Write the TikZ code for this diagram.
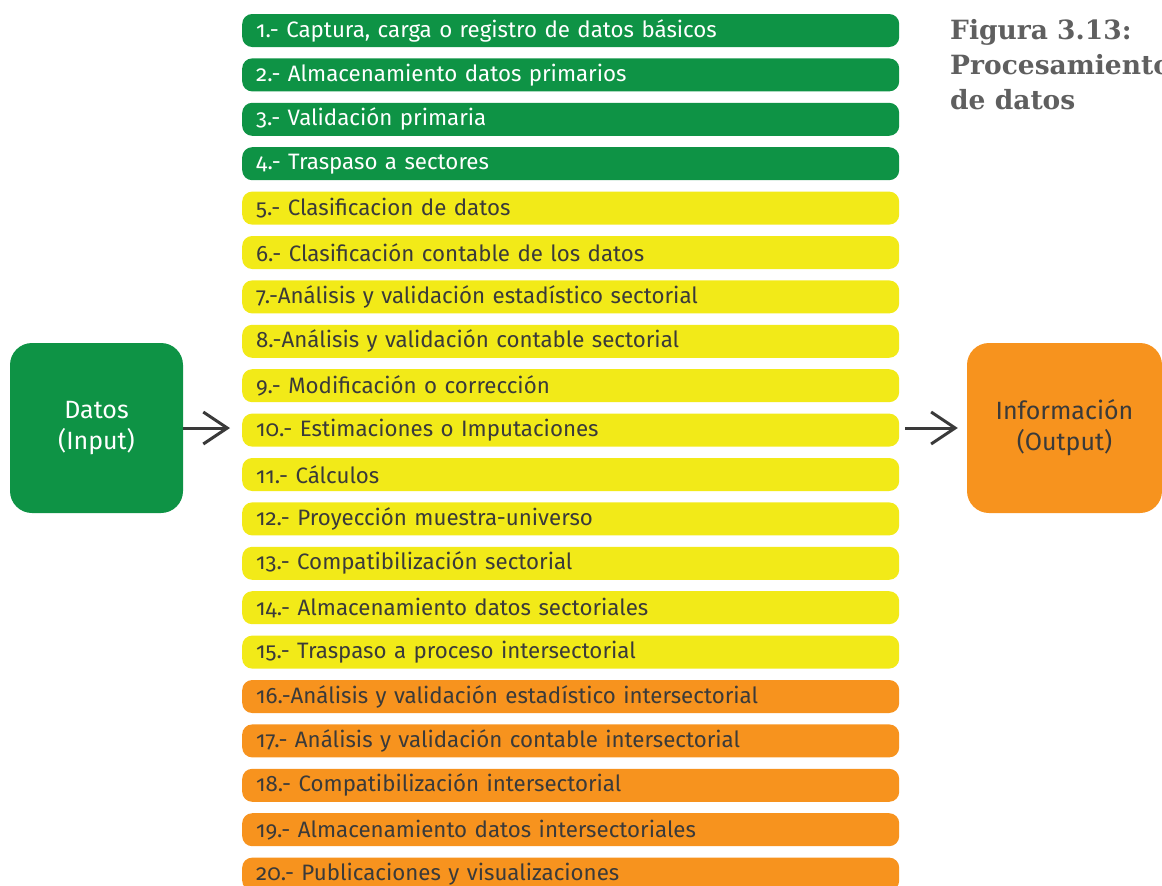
\documentclass[tikz,border=0pt]{standalone}
\usepackage{fontspec}
\setmainfont{Fira Sans}[Numbers=OldStyle]
\newfontfamily\titlefont{DejaVu Serif}
\usetikzlibrary{arrows.meta}
\definecolor{verde}{RGB}{14,147,69}
\definecolor{amarillo}{RGB}{242,234,24}
\definecolor{naranja}{RGB}{247,147,30}
\definecolor{oscuro}{RGB}{58,58,58}
\definecolor{gristitulo}{RGB}{95,95,95}
\tikzset{
  paso/.style={anchor=west, rounded corners=10pt, minimum height=33pt,
    text width=629pt, inner xsep=14pt, inner ysep=0pt, align=left,
    font=\fontsize{22.3}{26}\selectfont},
  verdepaso/.style={paso, fill=verde, text=white},
  amarillopaso/.style={paso, fill=amarillo, text=oscuro},
  naranjapaso/.style={paso, fill=naranja, text=oscuro},
  caja/.style={rounded corners=22pt, minimum width=173pt, minimum height=170pt,
    align=center, font=\fontsize{25}{31}\selectfont},
  flecha/.style={draw=oscuro, line width=3pt, -{Straight Barb[length=24pt,width=32pt,line width=3pt]}}
}
\begin{document}
\begin{tikzpicture}[x=1pt,y=-1pt]
    \useasboundingbox (0,0) rectangle (1162,886);

    \node[verdepaso] (b1) at (242,30.5) {1.- Captura, carga o registro de datos básicos};
    \node[verdepaso] (b2) at (242,74.9) {2.- Almacenamiento datos primarios};
    \node[verdepaso] (b3) at (242,119.3) {3.- Validación primaria};
    \node[verdepaso] (b4) at (242,163.7) {4.- Traspaso a sectores};

    \node[amarillopaso] (b5) at (242,208.1) {5.- Clasificacion de datos};
    \node[amarillopaso] (b6) at (242,252.5) {6.- Clasificación contable de los datos};
    \node[amarillopaso] (b7) at (242,296.9) {7.-Análisis y validación estadístico sectorial};
    \node[amarillopaso] (b8) at (242,341.3) {8.-Análisis y validación contable sectorial};
    \node[amarillopaso] (b9) at (242,385.7) {9.- Modificación o corrección};
    \node[amarillopaso] (b10) at (242,430.1) {10.- Estimaciones o Imputaciones};
    \node[amarillopaso] (b11) at (242,474.5) {11.- Cálculos};
    \node[amarillopaso] (b12) at (242,518.9) {12.- Proyección muestra-universo};
    \node[amarillopaso] (b13) at (242,563.3) {13.- Compatibilización sectorial};
    \node[amarillopaso] (b14) at (242,607.7) {14.- Almacenamiento datos sectoriales};
    \node[amarillopaso] (b15) at (242,652.1) {15.- Traspaso a proceso intersectorial};

    \node[naranjapaso] (b16) at (242,696.5) {16.-Análisis y validación estadístico intersectorial};
    \node[naranjapaso] (b17) at (242,740.9) {17.- Análisis y validación contable intersectorial};
    \node[naranjapaso] (b18) at (242,785.3) {18.- Compatibilización intersectorial};
    \node[naranjapaso] (b19) at (242,829.7) {19.- Almacenamiento datos intersectoriales};
    \node[naranjapaso] (b20) at (242,874.1) {20.- Publicaciones y visualizaciones};

    \node[caja, fill=verde, text=white] (datos) at (96.5,428) {Datos\\(Input)};
    \node[caja, fill=naranja, text=oscuro, minimum width=195pt] (info) at (1064.5,428) {Información\\(Output)};

    \draw[flecha, shorten >=12pt] (datos.east) -- (datos.east -| b10.west);
    \draw[flecha, shorten <=6pt, shorten >=9pt] (b10.east |- info.west) -- (info.west);

    \node[anchor=north west, align=left, text=gristitulo, inner sep=0pt,
      font=\titlefont\bfseries\fontsize{26.5}{35}\selectfont] (titulo) at (950,19)
      {Figura 3.13:\\Procesamiento\\de datos};
\end{tikzpicture}
\end{document}
